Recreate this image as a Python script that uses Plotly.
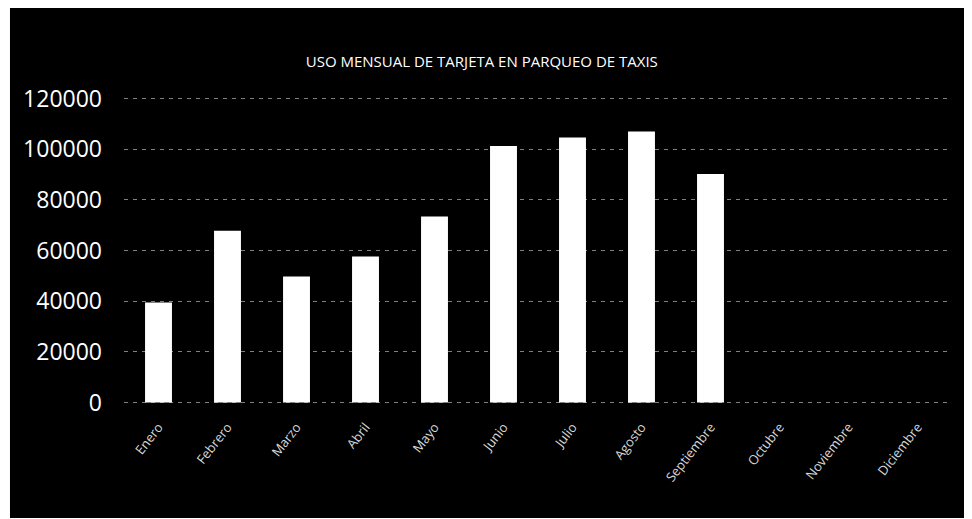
import plotly.graph_objects as go

meses = ["Enero", "Febrero", "Marzo", "Abril", "Mayo", "Junio", "Julio",
         "Agosto", "Septiembre", "Octubre", "Noviembre", "Diciembre"]
uso = [39500, 67800, 49700, 57600, 73400, 101300, 104600, 107000, 90200,
       None, None, None]
y_ticks = [0, 20000, 40000, 60000, 80000, 100000, 120000]

fig = go.Figure()
fig.add_trace(go.Bar(
    x=meses, y=uso,
    marker=dict(color="#ffffff", line=dict(width=0)),
))

# black panel behind chart
fig.add_shape(type="rect", xref="paper", yref="paper",
              x0=-0.1377, x1=1.03, y0=-0.37, y1=1.30,
              fillcolor="#000000", line=dict(width=0), layer="below")

fig.update_layout(
    width=964, height=511,
    paper_bgcolor="#ffffff",
    plot_bgcolor="rgba(0,0,0,0)",
    margin=dict(l=116, r=20, t=88, b=115),
    showlegend=False,
    bargap=0.61,
    title=dict(text="USO MENSUAL DE TARJETA EN PARQUEO DE TAXIS",
               x=0.4915, xref="container", xanchor="center",
               y=1 - 54 / 511, yref="container", yanchor="middle",
               font=dict(family="Open Sans", size=15, color="#ffffff")),
    font=dict(family="Open Sans", color="#ffffff"),
)
fig.update_xaxes(
    type="category", categoryorder="array", categoryarray=meses,
    tickangle=-52, tickfont=dict(size=13, color="#d8d8d8"),
    showgrid=False, showline=False, ticks="", zeroline=False,
    ticklabelstandoff=12,
)
fig.update_yaxes(
    range=[-600, 121000], tickvals=y_ticks,
    ticktext=[str(v) for v in y_ticks],
    tickfont=dict(size=23, color="#ffffff"),
    showgrid=True, gridcolor="#808080", gridwidth=1, griddash="4px,5px",
    zeroline=False, showline=False, ticks="", ticklabelstandoff=21,
)

fig.write_html("out.html")
